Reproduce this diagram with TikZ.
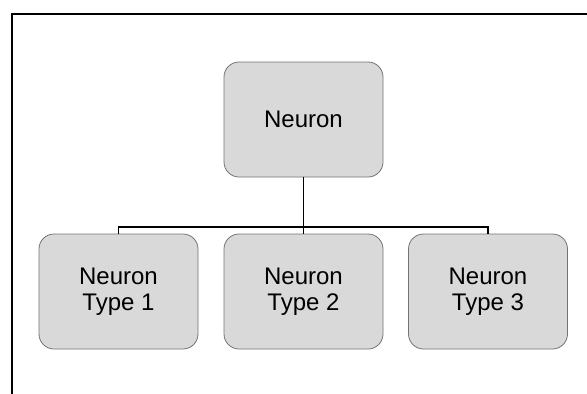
\documentclass[tikz,border=0pt]{standalone}
\usepackage{fontspec}
\setmainfont{Liberation Sans}
\usetikzlibrary{positioning}

\begin{document}
\begin{tikzpicture}[x=1pt,y=-1pt]
    \tikzstyle{box} = [rectangle, rounded corners=15pt, minimum width=159pt, minimum height=115pt, inner sep=0pt, outer sep=0pt, text centered, align=center, draw=gray!90!black, line width=0.8pt, fill=gray!30, font=\fontsize{24}{26}\selectfont]
    \tikzstyle{link} = [draw=black, line width=1.6pt]

    \useasboundingbox (0,0) rectangle (587,394);

    % open frame, cut at the right and bottom
    \draw [line width=2.4pt] (12,394) -- (12,14) -- (587,14);

    \node [box] (neuron) at (303.5,119.5) {Neuron};

    \node [box] (type1) at (118.5,291.5) {Neuron\\Type 1};
    \node [box] (type2) at (303.5,291.5) {Neuron\\Type 2};
    \node [box] (type3) at (488,291.5) {Neuron\\Type 3};

    \coordinate (branch) at (303.5,227);
    \draw [link] (neuron.south) -- (branch);
    \draw [link] (type1.north) |- (branch) -| (type3.north);
    \draw [link] (branch) -- (type2.north);

  \end{tikzpicture}
\end{document}
